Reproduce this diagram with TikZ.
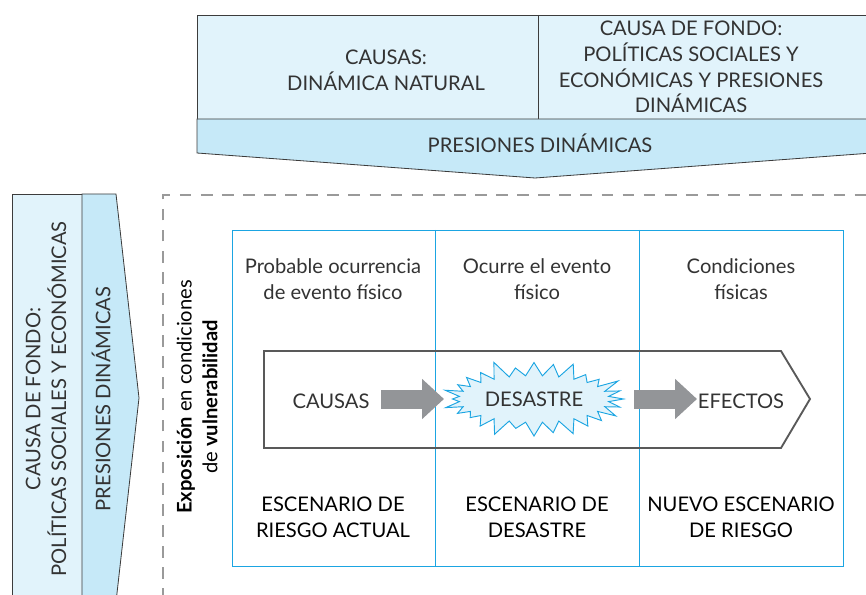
\documentclass[tikz,border=0pt]{standalone}
\usepackage{fontspec}
\setmainfont{Lato}
\usepackage{xcolor}
\usepackage{tikz}
\usetikzlibrary{positioning,arrows.meta,shapes.symbols}

\definecolor{paleblue}{HTML}{E1F3FB}
\definecolor{midblue}{HTML}{C6E9F8}
\definecolor{gridblue}{HTML}{1BA5E2}
\definecolor{edgegray}{HTML}{3C3C3C}
\definecolor{dashgray}{HTML}{9A9A9A}
\definecolor{arrowgray}{HTML}{939598}
\definecolor{inkgray}{HTML}{333333}

\begin{document}
\begin{tikzpicture}[x=0.03cm, y=-0.03cm,
    band/.style={draw=edgegray, line width=0.7pt},
    lbl/.style={text=inkgray, align=center, inner sep=0pt, font=\fontsize{17.2}{22}\selectfont},
    title/.style={lbl, text=black},
    blockarrow/.style={draw=arrowgray, line width=0.57cm, -{Triangle[length=0.66cm, width=1.17cm]}}]
\clip (0,0) rectangle (866,595);

\draw[band, fill=paleblue] (197,15) rectangle (872,119);
\draw[band] (538,15) -- (538,119);
\draw[band, fill=midblue] (197,119) -- (872,119) -- (872,153) -- (535,178) -- (197,153) -- cycle;

\node[lbl] (natural) at (386,70) {CAUSAS:\\DINÁMICA NATURAL};
\node[lbl] (fondo_top) at (691,67) {CAUSA DE FONDO:\\POLÍTICAS SOCIALES Y\\ECONÓMICAS Y PRESIONES\\DINÁMICAS};
\node[lbl] (presiones_top) at (540,143) {PRESIONES DINÁMICAS};

\draw[band, fill=paleblue] (12,194) rectangle (82,610);
\draw[band, fill=midblue] (82,194) -- (116,194) -- (139,398) -- (116,602) -- (82,602) -- cycle;

\node[lbl, rotate=90] (fondo_left) at (46,399) {CAUSA DE FONDO:\\POLÍTICAS SOCIALES Y ECONÓMICAS};
\node[lbl, rotate=90] (presiones_left) at (101,399) {PRESIONES DINÁMICAS};

\draw[dashgray, line width=1.3pt, dash pattern=on 10pt off 8pt] (163,600) -- (163,195) -- (872,195);

\node[lbl, text=black, rotate=90] (exposicion) at (197,397) {\textbf{Exposición} en condiciones\\de \textbf{vulnerabilidad}};

\draw[gridblue, line width=0.8pt] (232,230) rectangle (843,566);
\draw[gridblue, line width=0.8pt] (435,230) -- (435,566);
\draw[gridblue, line width=0.8pt] (639,230) -- (639,566);

\node[lbl] (probable) at (333,279) {Probable ocurrencia\\de evento físico};
\node[lbl] (ocurre) at (537,279) {Ocurre el evento\\físico};
\node[lbl] (condiciones) at (741,279) {Condiciones\\físicas};

\draw[edgegray!85, line width=1.6pt] (264,351) -- (781,351) -- (810,399) -- (781,448) -- (264,448) -- cycle;

\node[lbl] (causas) at (331,401) {CAUSAS};
\node[lbl] (efectos) at (741,401) {EFECTOS};
\coordinate (a1s) at (381,399);
\coordinate (a1e) at (444,399);
\coordinate (a2s) at (634,399);
\coordinate (a2e) at (697,399);
\draw[blockarrow] (a1s) -- (a1e);
\draw[blockarrow] (a2s) -- (a2e);

\node[starburst, starburst points=28, starburst point height=0.55cm, draw=gridblue, fill=paleblue, line width=0.8pt,
    minimum width=5.4cm, minimum height=2.5cm, text=inkgray, font=\fontsize{17.2}{22}\selectfont] (desastre) at (534,399) {DESASTRE};

\node[title] (actual) at (333,517) {ESCENARIO DE\\RIESGO ACTUAL};
\node[title] (escenario) at (537,517) {ESCENARIO DE\\DESASTRE};
\node[title] (nuevo) at (741,517) {NUEVO ESCENARIO\\DE RIESGO};

\end{tikzpicture}
\end{document}
